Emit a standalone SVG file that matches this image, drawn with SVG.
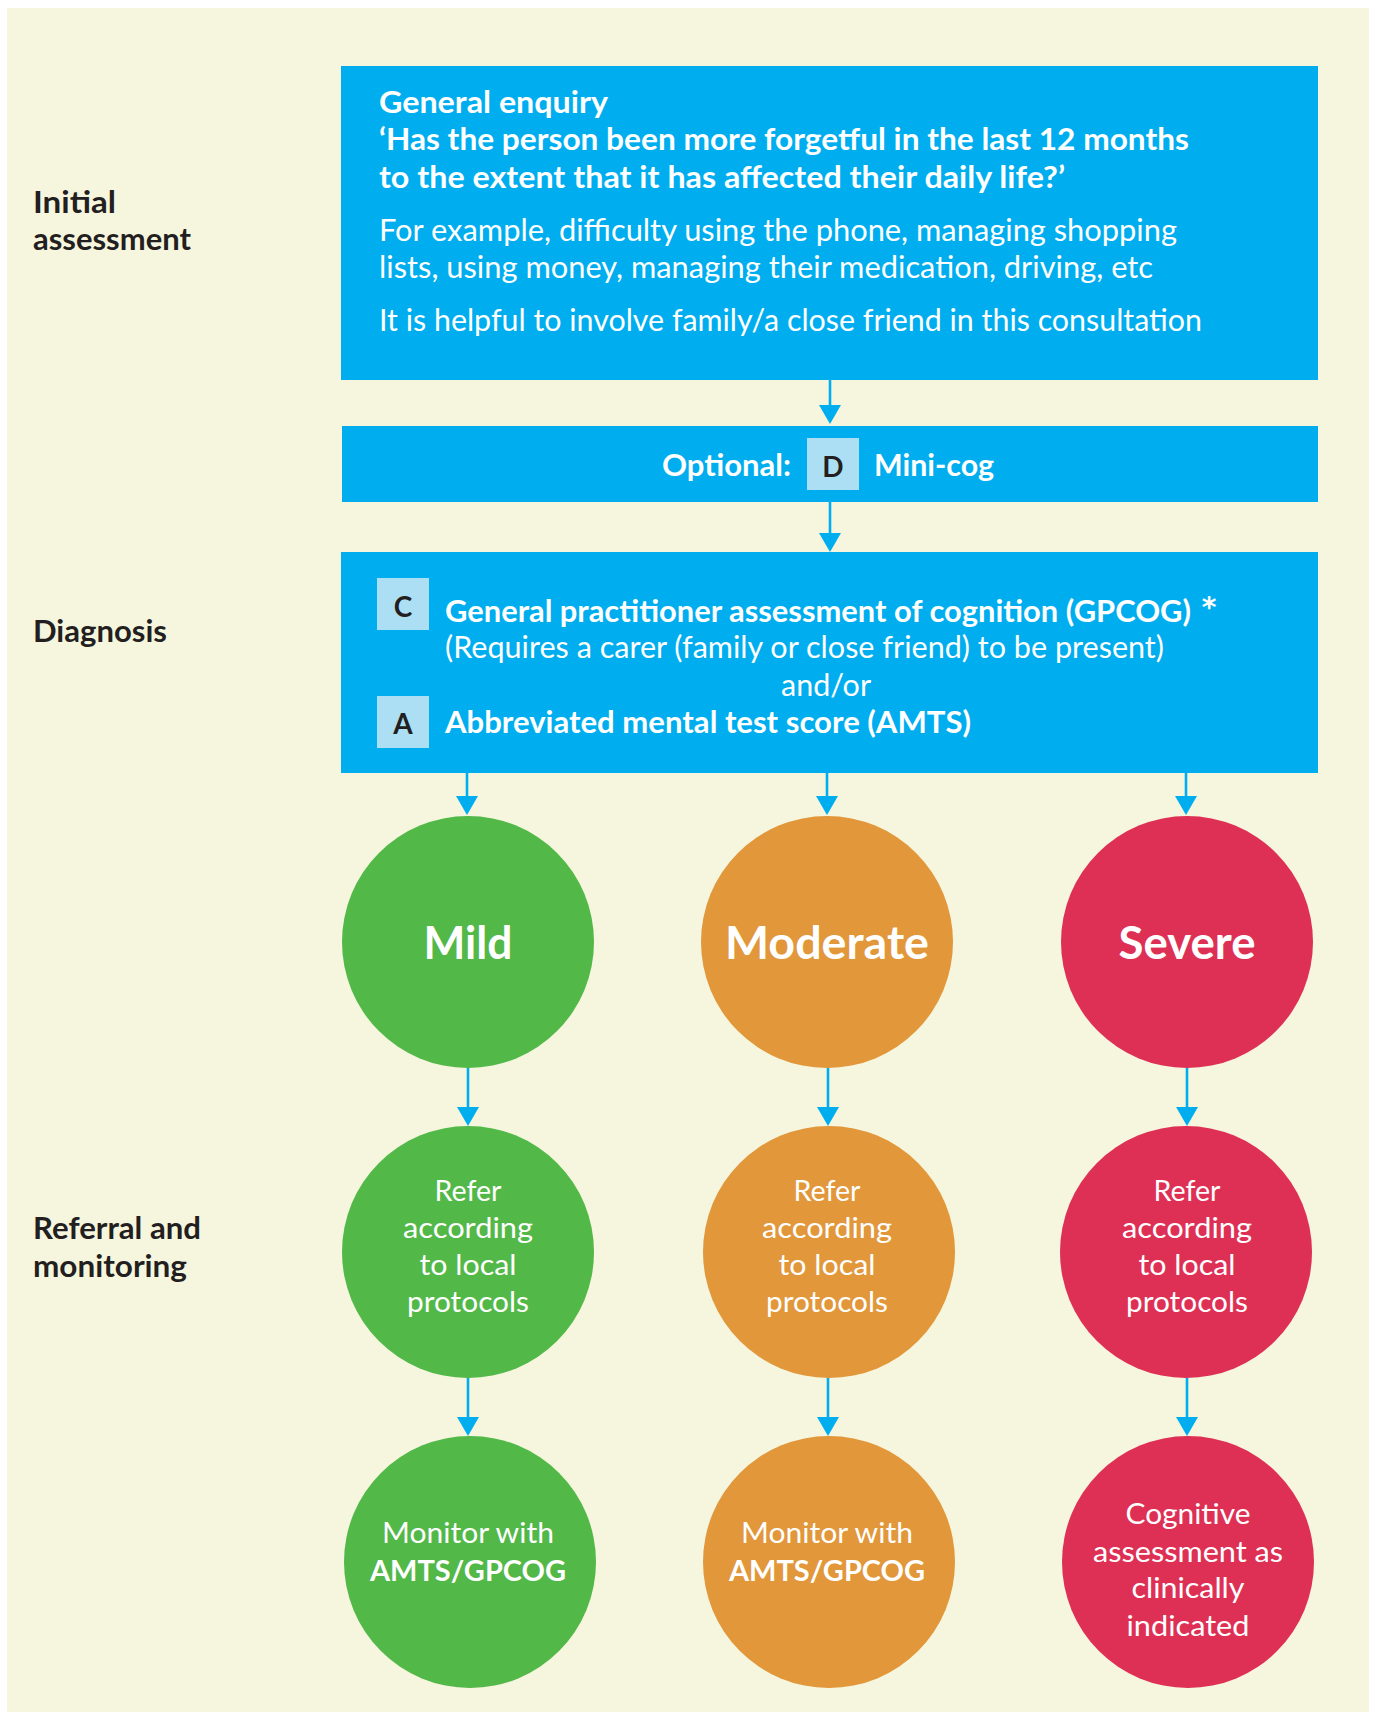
<svg xmlns="http://www.w3.org/2000/svg" width="1373" height="1712" viewBox="0 0 1373 1712">
<defs>
<style>
.bg{fill:#f6f6de}
.box{fill:#00aeef}
.tag{fill:#acdff3}
.mild{fill:#52b848}
.mod{fill:#e1973a}
.sev{fill:#de3055}
text{font-family:Lato,"Open Sans","Liberation Sans",sans-serif}
.wb{fill:#ffffff;font-weight:700;font-size:30px}
.wr{fill:#ffffff;font-weight:400;font-size:30px}
.lab{fill:#231f20;font-weight:700;font-size:30px}
.let{fill:#231f20;font-weight:700;font-size:28px;text-anchor:middle}
.big{fill:#ffffff;font-weight:700;font-size:45px;text-anchor:middle}
.cr{fill:#ffffff;font-weight:400;font-size:29px;text-anchor:middle}
.cb{fill:#ffffff;font-weight:700;font-size:29px;text-anchor:middle}
.ast{fill:#ffffff;font-weight:700;font-size:28px;text-anchor:middle;font-family:"DejaVu Sans",sans-serif}
.conn{stroke:#00aeef;stroke-width:2.6;fill:none;marker-end:url(#ah)}
</style>
<marker id="ah" viewBox="0 0 19 22" refX="1" refY="11" markerWidth="19" markerHeight="22" markerUnits="userSpaceOnUse" orient="auto">
<path d="M0,0 L19,11 L0,22 Z" fill="#00aeef"/>
</marker>
</defs>
<rect x="0" y="0" width="1373" height="1712" fill="#ffffff"/>
<rect class="bg" x="7" y="8" width="1362" height="1704"/>

<g id="row-labels">
<text class="lab" x="33" y="213" textLength="83" lengthAdjust="spacingAndGlyphs">Initial</text>
<text class="lab" x="33" y="250" textLength="158" lengthAdjust="spacingAndGlyphs">assessment</text>
<text class="lab" x="33" y="642" textLength="134" lengthAdjust="spacingAndGlyphs">Diagnosis</text>
<text class="lab" x="33" y="1239" textLength="168" lengthAdjust="spacingAndGlyphs">Referral and</text>
<text class="lab" x="33" y="1277" textLength="154" lengthAdjust="spacingAndGlyphs">monitoring</text>
</g>

<g id="connectors">
<line class="conn" x1="830" y1="380" x2="830" y2="406"/>
<line class="conn" x1="830" y1="502" x2="830" y2="534"/>
<line class="conn" x1="467" y1="773" x2="467" y2="797"/>
<line class="conn" x1="827" y1="773" x2="827" y2="797"/>
<line class="conn" x1="1186" y1="773" x2="1186" y2="797"/>
<line class="conn" x1="468" y1="1068" x2="468" y2="1108"/>
<line class="conn" x1="828" y1="1068" x2="828" y2="1108"/>
<line class="conn" x1="1187" y1="1068" x2="1187" y2="1108"/>
<line class="conn" x1="468" y1="1378" x2="468" y2="1418"/>
<line class="conn" x1="828" y1="1378" x2="828" y2="1418"/>
<line class="conn" x1="1187" y1="1378" x2="1187" y2="1418"/>
</g>

<g id="general-enquiry">
<rect class="box" x="341" y="66" width="977" height="314"/>
<text class="wb" x="379" y="113" textLength="229" lengthAdjust="spacingAndGlyphs">General enquiry</text>
<text class="wb" x="379" y="150" textLength="810" lengthAdjust="spacingAndGlyphs">‘Has the person been more forgetful in the last 12 months</text>
<text class="wb" x="379" y="188" textLength="686" lengthAdjust="spacingAndGlyphs">to the extent that it has affected their daily life?’</text>
<text class="wr" x="379" y="241" textLength="798" lengthAdjust="spacingAndGlyphs">For example, difficulty using the phone, managing shopping</text>
<text class="wr" x="379" y="278" textLength="774" lengthAdjust="spacingAndGlyphs">lists, using money, managing their medication, driving, etc</text>
<text class="wr" x="379" y="331" textLength="823" lengthAdjust="spacingAndGlyphs">It is helpful to involve family/a close friend in this consultation</text>
</g>

<g id="mini-cog">
<rect class="box" x="342" y="426" width="976" height="76"/>
<text class="wb" x="662" y="476" textLength="129" lengthAdjust="spacingAndGlyphs">Optional:</text>
<rect class="tag" x="807" y="438" width="52" height="52"/>
<text class="let" x="833" y="477" font-size="30">D</text>
<text class="wb" x="874" y="476" textLength="120" lengthAdjust="spacingAndGlyphs">Mini-cog</text>
</g>

<g id="diagnosis-tests">
<rect class="box" x="341" y="552" width="977" height="221"/>
<rect class="tag" x="377" y="578" width="52" height="52"/>
<text class="let" x="403" y="617">C</text>
<text class="wb" x="445" y="622" textLength="746" lengthAdjust="spacingAndGlyphs">General practitioner assessment of cognition (GPCOG)</text>
<text class="ast" x="1209" y="617">*</text>
<text class="wr" x="445" y="658" textLength="719" lengthAdjust="spacingAndGlyphs">(Requires a carer (family or close friend) to be present)</text>
<text class="wr" x="826" y="696" text-anchor="middle" textLength="90" lengthAdjust="spacingAndGlyphs">and/or</text>
<rect class="tag" x="377" y="696" width="52" height="52"/>
<text class="let" x="403" y="734">A</text>
<text class="wb" x="445" y="733" textLength="526" lengthAdjust="spacingAndGlyphs">Abbreviated mental test score (AMTS)</text>
</g>

<g id="mild">
<circle class="mild" cx="468" cy="942" r="126"/>
<text class="big" x="468" y="959" textLength="89" lengthAdjust="spacingAndGlyphs">Mild</text>
</g>
<g id="moderate">
<circle class="mod" cx="827" cy="942" r="126"/>
<text class="big" x="827" y="959" textLength="204" lengthAdjust="spacingAndGlyphs">Moderate</text>
</g>
<g id="severe">
<circle class="sev" cx="1187" cy="942" r="126"/>
<text class="big" x="1187" y="959" textLength="137" lengthAdjust="spacingAndGlyphs">Severe</text>
</g>

<g id="mild-refer">
<circle class="mild" cx="468" cy="1252" r="126"/>
<text class="cr" x="468" y="1201" textLength="67" lengthAdjust="spacingAndGlyphs">Refer</text>
<text class="cr" x="468" y="1238" textLength="130" lengthAdjust="spacingAndGlyphs">according</text>
<text class="cr" x="468" y="1275" textLength="97" lengthAdjust="spacingAndGlyphs">to local</text>
<text class="cr" x="468" y="1312" textLength="122" lengthAdjust="spacingAndGlyphs">protocols</text>
</g>
<g id="moderate-refer">
<circle class="mod" cx="829" cy="1252" r="126"/>
<text class="cr" x="827" y="1201" textLength="67" lengthAdjust="spacingAndGlyphs">Refer</text>
<text class="cr" x="827" y="1238" textLength="130" lengthAdjust="spacingAndGlyphs">according</text>
<text class="cr" x="827" y="1275" textLength="97" lengthAdjust="spacingAndGlyphs">to local</text>
<text class="cr" x="827" y="1312" textLength="122" lengthAdjust="spacingAndGlyphs">protocols</text>
</g>
<g id="severe-refer">
<circle class="sev" cx="1186" cy="1252" r="126"/>
<text class="cr" x="1187" y="1201" textLength="67" lengthAdjust="spacingAndGlyphs">Refer</text>
<text class="cr" x="1187" y="1238" textLength="130" lengthAdjust="spacingAndGlyphs">according</text>
<text class="cr" x="1187" y="1275" textLength="97" lengthAdjust="spacingAndGlyphs">to local</text>
<text class="cr" x="1187" y="1312" textLength="122" lengthAdjust="spacingAndGlyphs">protocols</text>
</g>

<g id="mild-monitor">
<circle class="mild" cx="470" cy="1562" r="126"/>
<text class="cr" x="468" y="1543" textLength="172" lengthAdjust="spacingAndGlyphs">Monitor with</text>
<text class="cb" x="468" y="1581" textLength="196" lengthAdjust="spacingAndGlyphs">AMTS/GPCOG</text>
</g>
<g id="moderate-monitor">
<circle class="mod" cx="829" cy="1562" r="126"/>
<text class="cr" x="827" y="1543" textLength="172" lengthAdjust="spacingAndGlyphs">Monitor with</text>
<text class="cb" x="827" y="1581" textLength="196" lengthAdjust="spacingAndGlyphs">AMTS/GPCOG</text>
</g>
<g id="severe-cognitive">
<circle class="sev" cx="1188" cy="1562" r="126"/>
<text class="cr" x="1188" y="1524" textLength="125" lengthAdjust="spacingAndGlyphs">Cognitive</text>
<text class="cr" x="1188" y="1562" textLength="190" lengthAdjust="spacingAndGlyphs">assessment as</text>
<text class="cr" x="1188" y="1598" textLength="113" lengthAdjust="spacingAndGlyphs">clinically</text>
<text class="cr" x="1188" y="1636" textLength="123" lengthAdjust="spacingAndGlyphs">indicated</text>
</g>
</svg>
